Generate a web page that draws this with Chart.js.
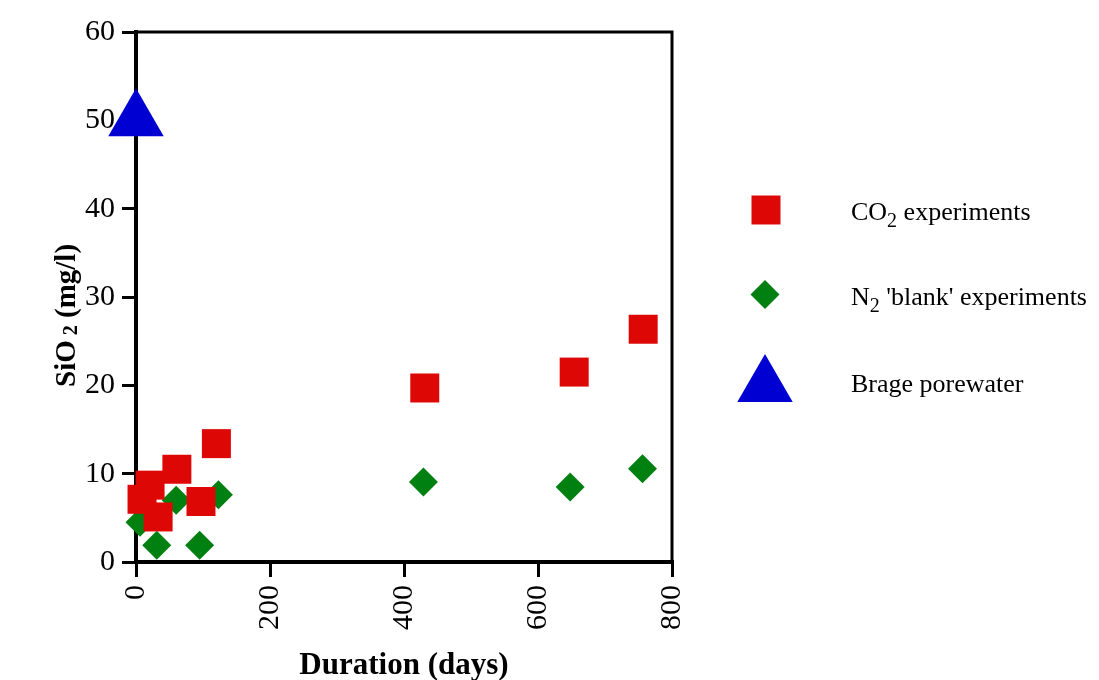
<!DOCTYPE html>
<html>
<head>
<meta charset="utf-8">
<script src="https://cdn.jsdelivr.net/npm/chart.js@4/dist/chart.umd.min.js"></script>
<style>
    html, body { margin: 0; padding: 0; background: #fff; }
    #chartSilica { display: block; }
</style>
</head>
<body>
<canvas id="chartSilica" width="1099" height="680"></canvas>
<script>
// SiO2 concentration vs. experiment duration
const co2Days = [9, 21, 33, 61, 97, 120, 431, 654, 757];
const co2SiO2 = [7.1, 8.7, 5.1, 10.5, 6.85, 13.4, 19.7, 21.5, 26.35];

const n2Days = [6, 31, 60, 95, 123, 429, 648, 756];
const n2SiO2 = [4.5, 1.9, 7.0, 1.9, 7.6, 9.05, 8.5, 10.55];

const porewaterDays = [0];
const porewaterSiO2 = [50];

const xTickValues = [0, 200, 400, 600, 800];
const yTickValues = [0, 10, 20, 30, 40, 50, 60];

const serif = '"Liberation Serif", "Times New Roman", serif';
const colores = { co2: '#dd0806', n2: '#008011', brage: '#0000d3' };

const puntos = (xs, ys) => xs.map((x, i) => ({ x: x, y: ys[i] }));

// markers for the legend, same styles as the datasets
const leyenda = [
    { style: 'rect', radius: 20.5, color: colores.co2, x: 766, y: 210, text: 'CO', sub: '2', rest: ' experiments', base: 220 },
    { style: 'rectRot', radius: 14.5, color: colores.n2, x: 765, y: 294.5, text: 'N', sub: '2', rest: " 'blank' experiments", base: 305 },
    { style: 'triangle', radius: 32, color: colores.brage, x: 765, y: 386, text: 'Brage porewater', sub: '', rest: '', base: 392 }
];

function dibujarMarcador(ctx, m) {
    ctx.fillStyle = m.color;
    if (Chart.helpers && Chart.helpers.drawPoint) {
        Chart.helpers.drawPoint(ctx, { pointStyle: m.style, radius: m.radius, rotation: 0, borderWidth: 0 }, m.x, m.y);
        return;
    }
    const r = m.radius;
    ctx.beginPath();
    if (m.style === 'rect') {
        const s = r * Math.SQRT1_2;
        ctx.rect(m.x - s, m.y - s, 2 * s, 2 * s);
    } else if (m.style === 'rectRot') {
        ctx.moveTo(m.x - r, m.y); ctx.lineTo(m.x, m.y - r);
        ctx.lineTo(m.x + r, m.y); ctx.lineTo(m.x, m.y + r);
    } else {
        ctx.moveTo(m.x, m.y - r);
        ctx.lineTo(m.x + r * Math.sqrt(3) / 2, m.y + r / 2);
        ctx.lineTo(m.x - r * Math.sqrt(3) / 2, m.y + r / 2);
    }
    ctx.closePath();
    ctx.fill();
}

// texto con subindice: "CO" + "2" + " experiments"
function textoSub(ctx, x, y, partes, size, subSize, subDrop, gap, weight) {
    ctx.fillText(partes[0], x, y);
    x += ctx.measureText(partes[0]).width;
    if (partes[1]) {
        ctx.font = `${weight} ${subSize}px ${serif}`;
        x += gap;
        ctx.fillText(partes[1], x, y + subDrop);
        x += ctx.measureText(partes[1]).width;
        ctx.font = `${weight} ${size}px ${serif}`;
    }
    if (partes[2]) ctx.fillText(partes[2], x, y);
}

const marcoPlugin = {
    id: 'marco',
    beforeDatasetsDraw(chart) {
        const { ctx, chartArea } = chart;
        ctx.save();
        ctx.strokeStyle = '#000';
        ctx.lineWidth = 3;
        ctx.beginPath();
        ctx.moveTo(chartArea.left, chartArea.top);
        ctx.lineTo(chartArea.right, chartArea.top);
        ctx.lineTo(chartArea.right, chartArea.bottom);
        ctx.stroke();
        ctx.restore();
    }
};

const textosPlugin = {
    id: 'textos',
    afterDraw(chart) {
        const ctx = chart.ctx;
        ctx.save();

        // y axis title, rotated
        ctx.translate(75, 387);
        ctx.rotate(-Math.PI / 2);
        ctx.fillStyle = '#000';
        ctx.textBaseline = 'alphabetic';
        ctx.textAlign = 'left';
        ctx.font = `bold 29px ${serif}`;
        textoSub(ctx, 0, 0, ['SiO', '2', ' (mg/l)'], 29, 20, 2, 5, 'bold');
        ctx.restore();

        // legend
        ctx.save();
        leyenda.forEach(m => {
            dibujarMarcador(ctx, m);
            ctx.fillStyle = '#000';
            ctx.textBaseline = 'alphabetic';
            ctx.textAlign = 'left';
            ctx.font = `normal 26px ${serif}`;
            textoSub(ctx, 851, m.base, [m.text, m.sub, m.rest], 26, 20, 7, 0, 'normal');
        });
        ctx.restore();
    }
};

new Chart(document.getElementById('chartSilica'), {
    type: 'scatter',
    data: {
        datasets: [
            {
                label: 'CO2 experiments',
                data: puntos(co2Days, co2SiO2),
                pointStyle: 'rect',
                pointRadius: 20.5,
                pointBorderWidth: 0,
                backgroundColor: colores.co2,
                borderColor: colores.co2,
                clip: false
            },
            {
                label: "N2 'blank' experiments",
                data: puntos(n2Days, n2SiO2),
                pointStyle: 'rectRot',
                pointRadius: 14.5,
                pointBorderWidth: 0,
                backgroundColor: colores.n2,
                borderColor: colores.n2,
                clip: false
            },
            {
                label: 'Brage porewater',
                data: puntos(porewaterDays, porewaterSiO2),
                pointStyle: 'triangle',
                pointRadius: 32,
                pointBorderWidth: 0,
                backgroundColor: colores.brage,
                borderColor: colores.brage,
                clip: false
            }
        ]
    },
    options: {
        responsive: false,
        devicePixelRatio: 1,
        animation: false,
        events: [],
        layout: { padding: { top: 27, right: 427, left: 0, bottom: 0 } },
        plugins: {
            legend: { display: false },
            tooltip: { enabled: false }
        },
        scales: {
            x: {
                type: 'linear',
                min: 0,
                max: 800,
                afterBuildTicks: s => { s.ticks = xTickValues.map(v => ({ value: v })); },
                afterFit: s => { s.height = 118; },
                ticks: {
                    color: '#000',
                    font: { family: serif, size: 30 },
                    minRotation: 90,
                    maxRotation: 90,
                    padding: 8
                },
                grid: { drawOnChartArea: false, color: '#000', lineWidth: 3, tickLength: 15 },
                border: { display: true, color: '#000', width: 4 },
                title: {
                    display: true,
                    text: 'Duration (days)',
                    color: '#000',
                    font: { family: serif, size: 31, weight: 'bold' },
                    padding: { top: 0, bottom: -5 }
                }
            },
            y: {
                type: 'linear',
                min: 0,
                max: 60,
                afterBuildTicks: s => { s.ticks = yTickValues.map(v => ({ value: v })); },
                afterFit: s => { s.width = 136; },
                ticks: {
                    color: '#000',
                    font: { family: serif, size: 30 },
                    padding: 7
                },
                grid: { drawOnChartArea: false, color: '#000', lineWidth: 3, tickLength: 14 },
                border: { display: true, color: '#000', width: 4 }
            }
        }
    },
    plugins: [marcoPlugin, textosPlugin]
});
</script>
</body>
</html>
